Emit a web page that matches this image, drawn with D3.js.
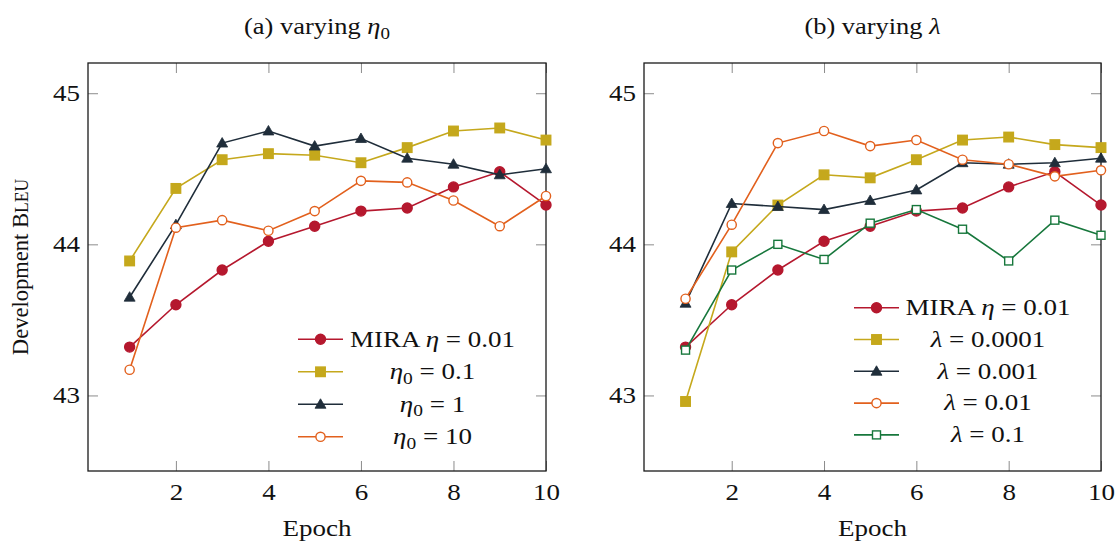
<!DOCTYPE html>
<html>
<head>
<meta charset="utf-8">
<script src="https://cdn.jsdelivr.net/npm/d3@7"></script>
<style>
  body { margin: 0; background: #fff; }
</style>
</head>
<body>
<svg id="chart" width="1115" height="542" style="font-family: 'Liberation Serif', serif;"></svg>
<script>
// epochs 1..10
const epochs = [1, 2, 3, 4, 5, 6, 7, 8, 9, 10];
const xTicks = [2, 4, 6, 8, 10];
const yTicks = [43, 44, 45];

// shared baseline
const mira = [43.32, 43.60, 43.83, 44.02, 44.12, 44.22, 44.24, 44.38, 44.48, 44.26];

// (a) varying eta0
const eta01 = [43.89, 44.37, 44.56, 44.60, 44.59, 44.54, 44.64, 44.75, 44.77, 44.69];
const eta1 = [43.65, 44.13, 44.67, 44.75, 44.65, 44.70, 44.57, 44.53, 44.46, 44.50];
const eta10 = [43.17, 44.11, 44.16, 44.09, 44.22, 44.42, 44.41, 44.29, 44.12, 44.32];

// (b) varying lambda
const lam00001 = [42.96, 43.95, 44.26, 44.46, 44.44, 44.56, 44.69, 44.71, 44.66, 44.64];
const lam0001 = [43.61, 44.27, 44.25, 44.23, 44.29, 44.36, 44.54, 44.53, 44.54, 44.57];
const lam001 = [43.64, 44.13, 44.67, 44.75, 44.65, 44.69, 44.56, 44.53, 44.45, 44.49];
const lam01 = [43.30, 43.83, 44.00, 43.90, 44.14, 44.23, 44.10, 43.89, 44.16, 44.06];

const colors = {
  red: "#b5182e",
  yellow: "#c5a81c",
  dark: "#1f2d3a",
  orange: "#e2601d",
  green: "#17773c"
};

const FONT = "'Liberation Serif', 'Times New Roman', serif";
const FS = 23.5;   // text size
const SX = 1.15;   // the TeX Times in the original runs a bit wider

// legend labels: [prefix, italic symbol, subscript, rest]
const panels = [
  {
    title: ["(a) varying ", "η", "0"],
    left: 88, right: 546,
    legendX: 298, legendY: 339.3, legendTextX: 432.5, legendStep: 32.5,
    series: [
      { values: mira, color: colors.red, marker: "circle", fill: true, label: ["MIRA ", "η", "", " = 0.01"] },
      { values: eta01, color: colors.yellow, marker: "square", fill: true, label: ["", "η", "0", " = 0.1"] },
      { values: eta1, color: colors.dark, marker: "triangle", fill: true, label: ["", "η", "0", " = 1"] },
      { values: eta10, color: colors.orange, marker: "circle", fill: false, label: ["", "η", "0", " = 10"] }
    ]
  },
  {
    title: ["(b) varying ", "λ", ""],
    left: 644, right: 1101,
    legendX: 854, legendY: 307.7, legendTextX: 988, legendStep: 31.8,
    series: [
      { values: mira, color: colors.red, marker: "circle", fill: true, label: ["MIRA ", "η", "", " = 0.01"] },
      { values: lam00001, color: colors.yellow, marker: "square", fill: true, label: ["", "λ", "", " = 0.0001"] },
      { values: lam0001, color: colors.dark, marker: "triangle", fill: true, label: ["", "λ", "", " = 0.001"] },
      { values: lam001, color: colors.orange, marker: "circle", fill: false, label: ["", "λ", "", " = 0.01"] },
      { values: lam01, color: colors.green, marker: "square", fill: false, label: ["", "λ", "", " = 0.1"] }
    ]
  }
];

const plotTop = 63, plotBottom = 471;
const svg = d3.select("#chart");

const y = d3.scaleLinear().domain([42.5, 45.2]).range([plotBottom, plotTop]);

const drawMarker = (g, type, cx, cy, color, fill) => {
  if (type === "circle") {
    g.append("circle").attr("cx", cx).attr("cy", cy).attr("r", fill ? 5 : 4.6)
      .attr("fill", fill ? color : "#fff").attr("stroke", color).attr("stroke-width", 1.4);
  } else if (type === "square") {
    const s = fill ? 9.5 : 8;
    g.append("rect").attr("x", cx - s / 2).attr("y", cy - s / 2).attr("width", s).attr("height", s)
      .attr("fill", fill ? color : "#fff").attr("stroke", color).attr("stroke-width", 1.4);
  } else {
    const sym = d3.symbol().type(d3.symbolTriangle).size(52);
    g.append("path").attr("d", sym()).attr("transform", `translate(${cx},${cy + 0.8})`)
      .attr("fill", color).attr("stroke", color).attr("stroke-width", 0.8);
  }
};

const addLabel = (textSel, parts, size) => {
  textSel.append("tspan").text(parts[0]);
  textSel.append("tspan").attr("font-style", "italic").text(parts[1]);
  if (parts[2]) {
    textSel.append("tspan").attr("font-size", size * 0.72).attr("dy", size * 0.2).text(parts[2]);
  }
  if (parts[3]) {
    textSel.append("tspan").attr("dy", parts[2] ? -size * 0.2 : 0).text(parts[3]);
  }
};

const serif = sel => sel.style("font-family", FONT).attr("fill", "#111");

// text placed at (x, y), widened by SX around its anchor
const wideText = (parent, x, yy, size) =>
  parent.append("g").attr("transform", `translate(${x},${yy}) scale(${SX},1)`)
    .append("text").attr("text-anchor", "middle").attr("font-size", size).call(serif);

panels.forEach(p => {
  const x = d3.scaleLinear().domain([0.1, 10]).range([p.left, p.right]);
  const g = svg.append("g");

  // ticks, inward on all four sides
  const axB = g.append("g").attr("transform", `translate(0,${plotBottom})`)
    .call(d3.axisBottom(x).tickValues(xTicks).tickSize(-10).tickPadding(12).tickFormat(d3.format("d")));
  const axT = g.append("g").attr("transform", `translate(0,${plotTop})`)
    .call(d3.axisTop(x).tickValues(xTicks).tickSize(-10).tickFormat(""));
  const axL = g.append("g").attr("transform", `translate(${p.left},0)`)
    .call(d3.axisLeft(y).tickValues(yTicks).tickSize(-10).tickPadding(7).tickFormat(d3.format("d")));
  const axR = g.append("g").attr("transform", `translate(${p.right},0)`)
    .call(d3.axisRight(y).tickValues(yTicks).tickSize(-10).tickFormat(""));
  [axB, axT, axL, axR].forEach(a => {
    a.attr("font-family", null).attr("font-size", null);
    a.select(".domain").remove();
    a.selectAll(".tick line").attr("stroke", "#8c8c8c").attr("stroke-width", 1);
    a.selectAll(".tick text").attr("font-size", FS).attr("transform", `scale(${SX},1)`).call(serif);
  });

  // frame
  g.append("rect").attr("x", p.left).attr("y", plotTop).attr("width", p.right - p.left).attr("height", plotBottom - plotTop)
    .attr("fill", "none").attr("stroke", "#1a1a1a").attr("stroke-width", 1.3);

  // title
  addLabel(wideText(g, (p.left + p.right) / 2, 34, FS - 0.5), p.title, FS - 0.5);

  // x label
  wideText(g, (p.left + p.right) / 2, 536, FS).text("Epoch");

  // series
  const line = d3.line().x((d, i) => x(epochs[i])).y(d => y(d));
  p.series.forEach(s => {
    const sg = g.append("g");
    sg.append("path").attr("d", line(s.values)).attr("fill", "none")
      .attr("stroke", s.color).attr("stroke-width", 1.6);
    s.values.forEach((v, i) => drawMarker(sg, s.marker, x(epochs[i]), y(v), s.color, s.fill));
  });

  // legend
  p.series.forEach((s, i) => {
    const ly = p.legendY + i * p.legendStep;
    const lg = g.append("g");
    lg.append("line").attr("x1", p.legendX).attr("x2", p.legendX + 45).attr("y1", ly).attr("y2", ly)
      .attr("stroke", s.color).attr("stroke-width", 1.6);
    drawMarker(lg, s.marker, p.legendX + 22.5, ly, s.color, s.fill);
    addLabel(wideText(lg, p.legendTextX, ly + 7.2, FS), s.label, FS);
  });
});

// y label with small caps BLEU
const yl = svg.append("text").attr("transform", "translate(28,267) rotate(-90) scale(0.96,1)")
  .attr("text-anchor", "middle").attr("font-size", FS).call(serif);
yl.append("tspan").text("Development B");
yl.append("tspan").attr("font-size", FS * 0.78).text("LEU");
</script>
</body>
</html>
